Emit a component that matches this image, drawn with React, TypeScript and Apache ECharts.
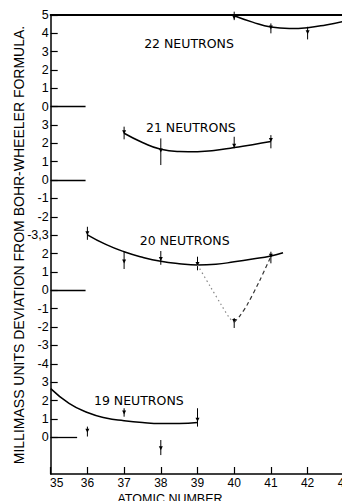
import React, { useEffect, useRef } from "react";
import * as echarts from "echarts";

// Global y positions: each neutron group is stacked with its own zero
const yTickLabels = ["", "", "0", "1", "2", "3", "-4", "-3", "-2", "-1", "0", "1", "2", "-3,3", "-2", "-1", "0", "1", "2", "3", "0", "1", "2", "3", "4", "5"];
const yTickPositions = [2, 3, 4, 5, 6, 7, 8, 9, 10, 11, 12, 13, 14, 15, 16, 17, 18, 19, 20, 21, 22, 23, 24, 25];

const groupNames = ["19 NEUTRONS", "20 NEUTRONS", "21 NEUTRONS", "22 NEUTRONS"];
const groupOffsets = [2, 10, 16, 20];
const zeroLineEnds = [35.72, 35.95, 35.95, 35.95];

// curves: [atomic number, deviation]
const curve19 = [[35, 2.65], [35.5, 1.85], [36, 1.35], [36.5, 1.05], [37, 0.9], [37.5, 0.8], [38, 0.75], [38.5, 0.75], [39, 0.8]];
const curve20 = [[36, 3.02], [36.5, 2.5], [37, 2.1], [37.5, 1.8], [38, 1.58], [38.5, 1.45], [39, 1.38], [39.5, 1.42], [40, 1.55], [40.5, 1.7], [41, 1.87], [41.33, 2.05]];
const curve20Dotted = [[39, 1.38], [39.35, 0.2], [39.65, -0.8], [39.87, -1.5], [40, -1.75]];
const curve20Dashed = [[40, -1.75], [40.15, -1.4], [40.35, -0.8], [40.7, 0.55], [41, 1.85]];
const curve21 = [[37, 2.55], [37.5, 2.05], [38, 1.68], [38.5, 1.56], [39, 1.55], [39.5, 1.62], [40, 1.78], [40.5, 1.93], [41, 2.1]];
const curve22 = [[40, 4.95], [40.5, 4.6], [41, 4.33], [41.5, 4.25], [42, 4.3], [42.5, 4.45], [43, 4.65]];

// measured points: [atomic number, value, low, high]
const points19 = [[36, 0.3, 0.04, 0.58], [37, 1.3, 1.12, 1.58], [38, -0.65, -0.97, -0.15], [39, 0.9, 0.58, 1.58]];
const points20 = [[36, 3.05, 2.75, 3.46], [37, 1.52, 1.16, 2.1], [38, 1.65, 1.39, 2.14], [39, 1.38, 1.09, 1.83], [40, -1.73, -2.05, -1.51], [41, 1.83, 1.47, 2.1]];
const points21 = [[37, 2.55, 2.22, 2.91], [38, 1.56, 0.82, 2.27], [40, 1.82, 1.73, 2.36], [41, 2.13, 1.73, 2.45]];
const points22 = [[40, 4.8, 4.71, 5.17], [41, 4.26, 3.99, 4.53], [42, 4.0, 3.66, 4.35]];

const FONT = "Liberation Sans";

function shift(curve: number[][], off: number) {
  return curve.map((p) => [p[0], p[1] + off]);
}
function shiftPts(pts: number[][], off: number) {
  return pts.map((p) => [p[0], p[1] + off, p[2] + off, p[3] + off]);
}

export default function App() {
  const ref = useRef<HTMLDivElement>(null);
  useEffect(() => {
    if (!ref.current) return;
    const chart = echarts.init(ref.current, null, { renderer: "svg" });
    const lineBase = {
      type: "line",
      smooth: true,
      showSymbol: false,
      symbol: "none",
      silent: true,
      lineStyle: { color: "#000", width: 1.5 },
    };
    const allPoints = [
      ...shiftPts(points19, groupOffsets[0]),
      ...shiftPts(points20, groupOffsets[1]),
      ...shiftPts(points21, groupOffsets[2]),
      ...shiftPts(points22, groupOffsets[3]),
    ];
    const option: any = {
      animation: false,
      grid: { left: 50.7, top: 14.8, bottom: 27, right: -2.3, outerBoundsMode: "none", containLabel: false },
      xAxis: [
        {
          type: "value",
          min: 35,
          max: 43,
          interval: 1,
          axisLine: { show: true, lineStyle: { color: "#000", width: 1.6 } },
          axisTick: { show: true, inside: true, length: 7, lineStyle: { color: "#000", width: 1.2 } },
          splitLine: { show: false },
          axisLabel: {
            color: "#000",
            fontFamily: FONT,
            fontSize: 12,
            margin: 3,
            formatter: (v: number) => (v === 35 ? "{first|35}" : String(v)),
            rich: { first: { padding: [0, 0, 0, 12], fontFamily: FONT, fontSize: 12, color: "#000" } },
          },
        },
        {
          type: "value",
          position: "top",
          min: 35,
          max: 43,
          interval: 1,
          axisLine: { show: true, lineStyle: { color: "#000", width: 2 } },
          axisTick: { show: false },
          axisLabel: { show: false },
          splitLine: { show: false },
        },
      ],
      yAxis: {
        type: "value",
        min: 0,
        max: 25,
        interval: 1,
        axisLine: { show: true, lineStyle: { color: "#000", width: 1.5 } },
        axisTick: { show: true, inside: true, length: 7, customValues: yTickPositions, lineStyle: { color: "#000", width: 1.2 } },
        splitLine: { show: false },
        axisLabel: {
          color: "#000",
          fontFamily: FONT,
          fontSize: 12.5,
          margin: 2,
          customValues: yTickPositions,
          formatter: (v: number) => yTickLabels[Math.round(v)] ?? "",
        },
      },
      series: [
        {
          ...lineBase,
          data: shift(curve19, groupOffsets[0]),
          markLine: {
            silent: true,
            symbol: "none",
            label: { show: false },
            lineStyle: { color: "#000", width: 1.3, type: "solid" },
            data: groupOffsets.map((off, i) => [{ coord: [35, off] }, { coord: [zeroLineEnds[i], off] }]),
          },
        },
        { ...lineBase, data: shift(curve20, groupOffsets[1]) },
        { ...lineBase, data: shift(curve20Dotted, groupOffsets[1]), smooth: 0.3, lineStyle: { color: "#888", width: 1.2, type: [1.5, 3] } },
        { ...lineBase, data: shift(curve20Dashed, groupOffsets[1]), smooth: 0.3, lineStyle: { color: "#333", width: 1.2, type: [4, 3] } },
        { ...lineBase, data: shift(curve21, groupOffsets[2]) },
        { ...lineBase, data: shift(curve22, groupOffsets[3]) },
        {
          type: "custom",
          silent: true,
          clip: false,
          encode: { x: 0, y: [1, 2, 3] },
          data: allPoints,
          renderItem: (params: any, api: any) => {
            const p = api.coord([api.value(0), api.value(1)]);
            const lo = api.coord([api.value(0), api.value(2)]);
            const hi = api.coord([api.value(0), api.value(3)]);
            return {
              type: "group",
              children: [
                { type: "line", shape: { x1: p[0], y1: hi[1], x2: p[0], y2: lo[1] }, style: { stroke: "#000", lineWidth: 1 } },
                {
                  type: "polygon",
                  shape: { points: [[p[0] - 2, p[1] - 3], [p[0] + 2, p[1] - 3], [p[0], p[1] + 1]] },
                  style: { fill: "#000" },
                },
              ],
            };
          },
        },
      ],
      graphic: [
        {
          type: "text",
          x: 19,
          y: 245,
          rotation: Math.PI / 2,
          style: { text: "MILLIMASS UNITS DEVIATION FROM BOHR-WHEELER FORMULA.", fontFamily: FONT, fontSize: 14, fill: "#000", align: "center", verticalAlign: "middle" },
        },
        {
          type: "text",
          x: 170,
          y: 499,
          style: { text: "ATOMIC NUMBER", fontFamily: FONT, fontSize: 12.5, fill: "#000", align: "center", verticalAlign: "middle" },
        },
        { type: "text", x: 189, y: 43.3, style: { text: groupNames[3], fontFamily: "DejaVu Sans", fontSize: 12.5, fill: "#000", align: "center", verticalAlign: "middle" } },
        { type: "text", x: 190.8, y: 127.7, style: { text: groupNames[2], fontFamily: "DejaVu Sans", fontSize: 12.5, fill: "#000", align: "center", verticalAlign: "middle" } },
        { type: "text", x: 184.7, y: 240.7, style: { text: groupNames[1], fontFamily: "DejaVu Sans", fontSize: 12.5, fill: "#000", align: "center", verticalAlign: "middle" } },
        { type: "text", x: 138.8, y: 400.7, style: { text: groupNames[0], fontFamily: "DejaVu Sans", fontSize: 12.5, fill: "#000", align: "center", verticalAlign: "middle" } },
      ],
    };
    chart.setOption(option);
    return () => chart.dispose();
  }, []);
  return <div ref={ref} style={{ position: "fixed", left: 0, top: 0, width: 342, height: 501, background: "#fff" }} />;
}
